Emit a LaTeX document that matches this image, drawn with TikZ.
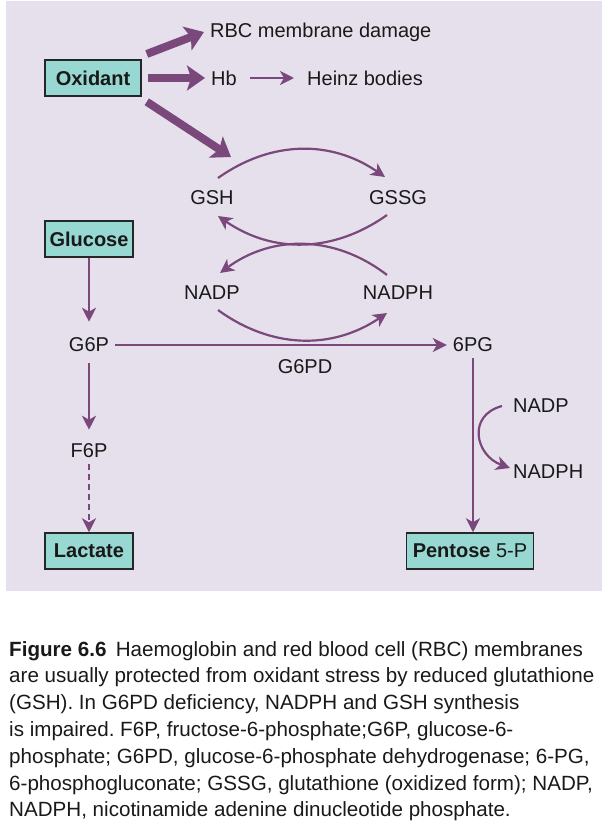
\documentclass[tikz,border=0pt]{standalone}
\usepackage{fontspec}
\setmainfont{Liberation Sans}
\usetikzlibrary{arrows.meta,calc,positioning}
\definecolor{panelbg}{RGB}{230,224,236}
\definecolor{boxfill}{RGB}{152,216,210}
\definecolor{arrowpurple}{RGB}{122,72,122}
\newcommand{\figfont}{\fontsize{20}{24}\selectfont}
\tikzset{
chembox/.style={
  rectangle,
  draw=black!85,
  line width=1.5pt,
  fill=boxfill,
  minimum height=36pt,
  inner sep=0pt,
  font=\figfont\bfseries,
  }
}
\tikzset{
chemlabel/.style={
  inner sep=6pt,
  }
}
\tikzset{
myline/.style={
  line width=2.2pt,
  draw=arrowpurple,
  -{Stealth[length=14pt,width=14pt,inset=4pt]}
  }
}
\tikzset{
thickline/.style={
  line width=8pt,
  draw=arrowpurple,
  -{Stealth[length=18pt,width=25pt,inset=4pt]}
  }
}

\begin{document}
\frenchspacing
\begin{tikzpicture}[x=1pt,y=-1pt,font=\figfont,text=black!90]
    \useasboundingbox (0,0) rectangle (602,836);
    \fill[panelbg] (6,1) rectangle (602,591);

    % oxidant part
    \node[chembox, minimum width=96pt] (ox) at (93,78) {Oxidant};
    \node[chemlabel, anchor=west] (rbc) at (204,32) {RBC membrane damage};
    \node[chemlabel, anchor=west] (hb) at (205,78) {Hb};
    \node[chemlabel, anchor=west] (heinz) at (301,78) {Heinz bodies};
    \coordinate (hit) at (231,157);

    % glutathione part
    \node[chemlabel] (gsh) at (212,198) {GSH};
    \node[chemlabel] (gssg) at (398,198) {GSSG};
    \node[chemlabel] (nadp) at (212,293) {NADP};
    \node[chemlabel] (nadph) at (398,293) {NADPH};

    % glycolysis part
    \node[chembox, minimum width=88pt] (gluc) at (89,239) {Glucose};
    \node[chemlabel] (g6p) at (89,345) {G6P};
    \node[chemlabel] (f6p) at (89,451) {F6P};
    \node[chembox, minimum width=88pt] (lact) at (89,551) {Lactate};

    % pentose part
    \node[chemlabel] (pg) at (473,345) {6PG};
    \node[chemlabel] (g6pd) at (305,367) {G6PD};
    \node[chemlabel, anchor=west] (nadp2) at (507,406) {NADP};
    \node[chemlabel, anchor=west] (nadph2) at (507,472) {NADPH};
    \node[chembox, minimum width=127pt] (pent) at (470,551) {Pentose {\mdseries 5-P}};

    % oxidant edges
    \draw[thickline] ([shift={(5,-24)}]ox.east) -- (rbc.west);
    \draw[thickline] ([xshift=6pt]ox.east) -- (hb.west);
    \draw[thickline] ([shift={(5,5)}]ox.south east) -- (hit);
    \draw[myline, shorten <=7pt, shorten >=7pt] (hb) -- (heinz);

    % glutathione edges
    \draw[myline] ([shift={(6,-20)}]gsh.center) to[bend left=35] ([shift={(-13,-21)}]gssg.center);
    \draw[myline] ([shift={(-11,17)}]gssg.center) to[bend left=35] ([shift={(6,18)}]gsh.center);
    \draw[myline] ([shift={(-11,-18)}]nadph.center) to[bend right=37] ([shift={(8,-20)}]nadp.center);
    \draw[myline] ([shift={(6,17)}]nadp.center) to[bend right=35] ([shift={(-11,20)}]nadph.center);

    % glycolysis edges
    \draw[myline, shorten >=10pt] (gluc) -- (g6p);
    \draw[myline, shorten <=5pt, shorten >=8pt] (g6p) -- (f6p);
    \draw[myline, dash pattern=on 6pt off 4pt] (f6p) -- (lact);

    % pentose edges
    \draw[myline] (g6p) -- (pg);
    \draw[myline] (pg) -- (pg |- pent.north);
    \draw[myline] ([xshift=-5pt]nadp2.west) to[out=195,in=160,looseness=1.5] ([shift={(3,-4)}]nadph2.west);

    % caption
    \node[anchor=north west, align=left, inner sep=0pt, font=\fontsize{20.6}{26.8}\selectfont] (cap) at (9,641)
      {\textbf{Figure 6.6}\hspace{0.45em}Haemoglobin and red blood cell (RBC) membranes\\
       are usually protected from oxidant stress by reduced glutathione\\
       (GSH). In G6PD deficiency, NADPH and GSH synthesis\\
       is impaired. F6P, fructose-6-phosphate;G6P, glucose-6-\\
       phosphate; G6PD, glucose-6-phosphate dehydrogenase; 6-PG,\\
       6-phosphogluconate; GSSG, glutathione (oxidized form); NADP,\\
       NADPH, nicotinamide adenine dinucleotide phosphate.};
\end{tikzpicture}
\end{document}
